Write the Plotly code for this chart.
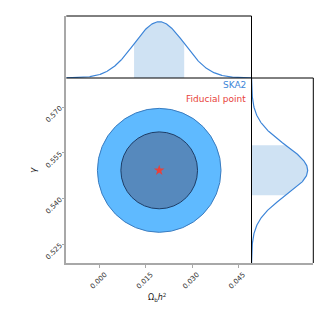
import numpy as np
import plotly.graph_objects as go

# ---- data ----
param_names = ["Ω<sub>b</sub><i>h</i><sup>2</sup>", "γ"]
fiducial = {"omega_b": 0.0193, "gamma": 0.5493}
sigma = {"omega_b": 0.0082, "gamma": 0.0083}
contour_levels = [2.45, 1.52]  # 95% and 68% 2D contour radii (in sigma)
x_tickvals = [0.000, 0.015, 0.030, 0.045]
x_ticktext = ["0.000", "0.015", "0.030", "0.045"]
y_tickvals = [0.525, 0.540, 0.555, 0.570]
y_ticktext = ["0.525", "0.540", "0.555", "0.570"]
x_range = [-0.0109, 0.0493]
y_range = [0.5189, 0.5796]
series_label = "SKA2"
fiducial_label = "Fiducial point"

# ---- styles ----
FONT = "DejaVu Sans"
C_LINE = "#3d85d8"
C_SHADE = "#cfe2f3"
C_OUTER = "#5fbaff"
C_OUTER_EDGE = "#3a7cc0"
C_INNER = "#5689bd"
C_INNER_EDGE = "#1e3d66"
C_RED = "#e8413a"
GRAY = "#a8a8a8"

# panel geometry (paper coords)
X0, X1, X2 = 66.3 / 330, 251.5 / 330, 313.3 / 330
Y0, Y1, Y2 = 1 - 263 / 330, 1 - 78 / 330, 1 - 16 / 330

fig = go.Figure()

mx, my = fiducial["omega_b"], fiducial["gamma"]
sx, sy = sigma["omega_b"], sigma["gamma"]

# top marginal
xs = np.linspace(x_range[0], x_range[1], 400)
px = np.exp(-0.5 * ((xs - mx) / sx) ** 2)
m = (xs >= mx - sx) & (xs <= mx + sx)
fig.add_trace(go.Scatter(x=xs[m], y=px[m], fill="tozeroy", fillcolor=C_SHADE,
                         line=dict(width=0), mode="lines", xaxis="x2", yaxis="y2",
                         hoverinfo="skip", showlegend=False))
fig.add_trace(go.Scatter(x=xs, y=px, mode="lines", line=dict(color=C_LINE, width=1.2),
                         xaxis="x2", yaxis="y2", showlegend=False))

# right marginal
ys = np.linspace(y_range[0], y_range[1], 400)
py = np.exp(-0.5 * ((ys - my) / sy) ** 2)
m = (ys >= my - sy) & (ys <= my + sy)
fig.add_trace(go.Scatter(x=py[m], y=ys[m], fill="tozerox", fillcolor=C_SHADE,
                         line=dict(width=0), mode="lines", xaxis="x3", yaxis="y3",
                         hoverinfo="skip", showlegend=False))
fig.add_trace(go.Scatter(x=py, y=ys, mode="lines", line=dict(color=C_LINE, width=1.2),
                         xaxis="x3", yaxis="y3", showlegend=False))

# fiducial star
fig.add_trace(go.Scatter(x=[mx], y=[my], mode="markers",
                         marker=dict(symbol="star", size=8, color=C_RED, line=dict(width=0)),
                         xaxis="x", yaxis="y", showlegend=False))

shapes = []
# 2D contours (ellipses in data space)
for k, (fc, lc) in zip(contour_levels, [(C_OUTER, C_OUTER_EDGE), (C_INNER, C_INNER_EDGE)]):
    shapes.append(dict(type="circle", xref="x", yref="y", layer="below",
                       x0=mx - k * sx, x1=mx + k * sx, y0=my - k * sy, y1=my + k * sy,
                       fillcolor=fc, line=dict(color=lc, width=1)))

# black frame lines
def pline(xa, ya, xb, yb, color="black", w=1):
    shapes.append(dict(type="line", xref="paper", yref="paper", x0=xa, y0=ya, x1=xb, y1=yb,
                       line=dict(color=color, width=w), layer="above"))

pline(X0, Y2, X1, Y2)
pline(X1, Y1, X1, Y2)
pline(X0, Y1, X2, Y1)
pline(X1, Y0, X1, Y1)
pline(X2, Y0, X2, Y1)

axis_common = dict(showgrid=False, zeroline=False)
fig.update_layout(
    width=330, height=330, autosize=False,
    margin=dict(l=0, r=0, t=0, b=0),
    paper_bgcolor="white", plot_bgcolor="rgba(0,0,0,0)",
    font=dict(family=FONT, size=7, color="#222"),
    shapes=shapes,
    xaxis=dict(domain=[X0, X1], range=x_range, anchor="y", tickvals=x_tickvals,
               ticktext=x_ticktext, tickangle=-45, ticks="outside", ticklen=3,
               tickcolor=GRAY, showline=True, linecolor=GRAY, linewidth=1.5,
               tickfont=dict(size=7, color="#333"), ticklabelshift=5, **axis_common),
    yaxis=dict(domain=[Y0, Y1], range=y_range, anchor="x", tickvals=y_tickvals,
               ticktext=y_ticktext, tickangle=-45, ticks="outside", ticklen=3,
               tickcolor=GRAY, showline=True, linecolor=GRAY, linewidth=1.5,
               tickfont=dict(size=7, color="#333"), **axis_common),
    xaxis2=dict(domain=[X0, X1], range=x_range, anchor="y2", showticklabels=False,
                ticks="", showline=False, **axis_common),
    yaxis2=dict(domain=[Y1, Y2], range=[0, 1 / 0.908], anchor="x2", showticklabels=False,
                ticks="", showline=True, linecolor=GRAY, linewidth=1.5, **axis_common),
    xaxis3=dict(domain=[X1, X2], range=[0, 1 / 0.909], anchor="y3", showticklabels=False,
                ticks="", showline=True, linecolor=GRAY, linewidth=1.5, **axis_common),
    yaxis3=dict(domain=[Y0, Y1], range=y_range, anchor="x3", showticklabels=False,
                ticks="", showline=False, **axis_common),
    annotations=[
        dict(text=series_label, xref="paper", yref="paper", x=248 / 330, y=1 - 85.5 / 330,
             xanchor="right", yanchor="middle", showarrow=False,
             font=dict(size=9, color=C_LINE, family=FONT)),
        dict(text=fiducial_label, xref="paper", yref="paper", x=248 / 330, y=1 - 99 / 330,
             xanchor="right", yanchor="middle", showarrow=False,
             font=dict(size=9, color=C_RED, family=FONT)),
        dict(text=param_names[0], xref="paper", yref="paper", x=157 / 330, y=1 - 297 / 330,
             xanchor="center", yanchor="middle", showarrow=False,
             font=dict(size=8, color="#222", family=FONT)),
        dict(text="<i>" + param_names[1] + "</i>", xref="paper", yref="paper", x=33 / 330,
             y=1 - 170 / 330, xanchor="center", yanchor="middle", showarrow=False,
             textangle=-90, font=dict(size=9, color="#222", family=FONT)),
    ],
)

fig.write_html("out.html", config={"displayModeBar": False},
               post_script="document.body.style.margin='0';document.body.style.overflow='hidden';")
